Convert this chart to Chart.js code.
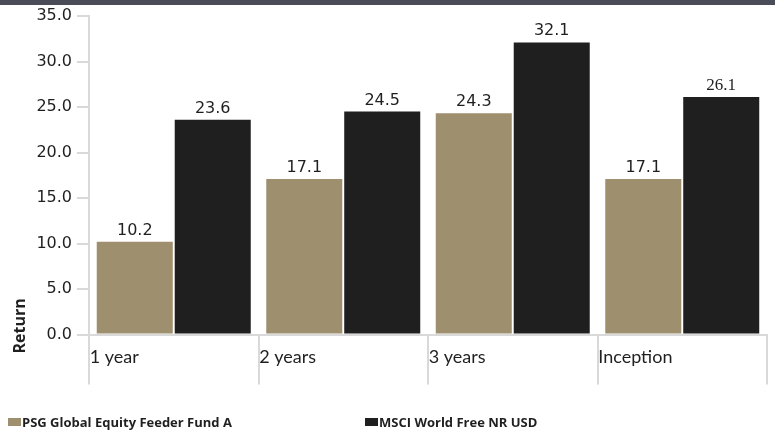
<!DOCTYPE html>
<html>
<head>
<meta charset="utf-8">
<script src="https://cdn.jsdelivr.net/npm/chart.js@4/dist/chart.umd.min.js"></script>
<style>
  html, body { margin: 0; padding: 0; background: #fff; }
  #wrap { position: relative; width: 775px; height: 438px; overflow: hidden; }
  #band { position: absolute; left: 0; top: 0; width: 775px; height: 5px; background: #4a4d57; }
  canvas { position: absolute; left: 0; top: 0; }
  .leg { position: absolute; top: 415px; font: bold 13px "Open Sans", "DejaVu Sans", sans-serif; color: #1f1f1f; white-space: nowrap; line-height: 15px; }
  .leg i { display: inline-block; width: 13px; height: 8px; margin-right: 1px; vertical-align: 1px; }
</style>
</head>
<body>
<div id="wrap">
  <canvas id="c" width="775" height="438"></canvas>
  <div id="band"></div>
  <div class="leg" style="left:8px"><i style="background:#9e8f6e"></i>PSG Global Equity Feeder Fund A</div>
  <div class="leg" style="left:365px"><i style="background:#1f1f1f"></i>MSCI World Free NR USD</div>
</div>
<script>
const categories = ["1 year", "2 years", "3 years", "Inception"];
const seriesNames = ["PSG Global Equity Feeder Fund A", "MSCI World Free NR USD"];
const fundValues = [10.2, 17.1, 24.3, 17.1];
const indexValues = [23.6, 24.5, 32.1, 26.1];
const yTicks = [0, 5, 10, 15, 20, 25, 30, 35];
const yTitle = "Return";

const valueLabels = {
  id: 'valueLabels',
  afterDatasetsDraw(chart) {
    const ctx = chart.ctx;
    chart.data.datasets.forEach((ds, di) => {
      const meta = chart.getDatasetMeta(di);
      meta.data.forEach((bar, i) => {
        const serif = (di === 1 && i === 3);
        ctx.save();
        ctx.font = serif ? '17px "Liberation Serif", serif' : '16px "DejaVu Sans", sans-serif';
        ctx.fillStyle = '#1f1f1f';
        ctx.textAlign = 'center';
        ctx.textBaseline = 'alphabetic';
        ctx.fillText(ds.data[i].toFixed(1), bar.x, bar.y - 7);
        ctx.restore();
      });
    });
  }
};

const axisTitle = {
  id: 'axisTitle',
  afterDraw(chart) {
    const ctx = chart.ctx;
    const yb = chart.scales.y.bottom;
    ctx.save();
    ctx.translate(20, yb + 19);
    ctx.rotate(-Math.PI / 2);
    ctx.font = 'bold 16px "Open Sans", "DejaVu Sans", sans-serif';
    ctx.fillStyle = '#1f1f1f';
    ctx.textAlign = 'left';
    ctx.textBaseline = 'middle';
    ctx.fillText(yTitle, 0, 0);
    ctx.restore();
  }
};

new Chart(document.getElementById('c'), {
  type: 'bar',
  data: {
    labels: categories,
    datasets: [
      { label: seriesNames[0], data: fundValues, backgroundColor: '#9e8f6e', categoryPercentage: 0.92, barPercentage: 0.975 },
      { label: seriesNames[1], data: indexValues, backgroundColor: '#1f1f1f', categoryPercentage: 0.92, barPercentage: 0.975 }
    ]
  },
  options: {
    responsive: false,
    animation: false,
    events: [],
    layout: { padding: { top: 16, right: 8, left: 0, bottom: 0 } },
    plugins: { legend: { display: false }, tooltip: { enabled: false } },
    scales: {
      x: {
        offset: true,
        grid: { offset: true, drawOnChartArea: false, drawTicks: true, tickLength: 50, color: '#d9d9d9', lineWidth: 2 },
        border: { color: '#d9d9d9', width: 2 },
        ticks: {
          align: 'start',
          labelOffset: -84,
          padding: -38,
          maxRotation: 0,
          color: '#1f1f1f',
          font: { family: 'Lato, "Open Sans", sans-serif', size: 18 }
        },
        afterFit(scale) { scale.height = 103.5; }
      },
      y: {
        min: 0, max: 35,
        afterBuildTicks(scale) { scale.ticks = yTicks.map(v => ({ value: v })); },
        grid: { drawOnChartArea: false, tickLength: 12, color: '#d9d9d9', lineWidth: 2 },
        border: { color: '#d9d9d9', width: 2 },
        ticks: {
          padding: 5,
          color: '#1f1f1f',
          font: { family: '"DejaVu Sans", sans-serif', size: 16 },
          callback: v => Number(v).toFixed(1)
        },
        afterFit(scale) { scale.width = 89; }
      }
    }
  },
  plugins: [valueLabels, axisTitle]
});
</script>
</body>
</html>
